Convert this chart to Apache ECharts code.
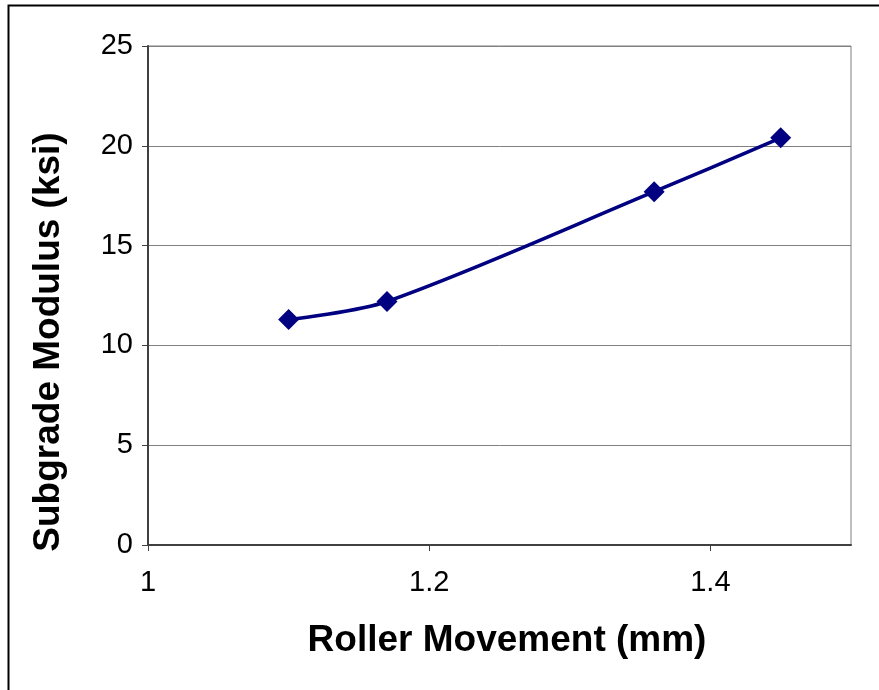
<!DOCTYPE html>
<html>
<head>
<meta charset="utf-8">
<script src="https://cdn.jsdelivr.net/npm/echarts@6/dist/echarts.min.js"></script>
<style>
  html, body { margin: 0; padding: 0; background: #ffffff; }
  #chart { width: 879px; height: 690px; }
</style>
</head>
<body>
<div id="chart"></div>
<script>
// Roller movement (mm) vs. subgrade modulus (ksi)
const rollerMovement = [1.10, 1.17, 1.36, 1.45];
const subgradeModulus = [11.3, 12.2, 17.7, 20.4];
const xTicks = [1, 1.2, 1.4];
const yTicks = [0, 5, 10, 15, 20, 25];

const points = rollerMovement.map((x, i) => [x, subgradeModulus[i]]);
const FONT = 'Liberation Sans, Arial, sans-serif';

const chart = echarts.init(document.getElementById('chart'), null, { renderer: 'canvas' });
chart.setOption({
  animation: false,
  backgroundColor: '#ffffff',
  grid: { left: 148, right: 28, top: 46, bottom: 145, show: true, borderColor: '#808080', borderWidth: 1 },
  xAxis: {
    type: 'value', min: 1, max: 1.5, interval: 0.2,
    axisLine: { show: true, onZero: false, lineStyle: { color: '#404040', width: 2 } },
    axisTick: { show: true, length: 6, inside: false, customValues: xTicks, lineStyle: { color: '#404040', width: 1 } },
    axisLabel: { customValues: xTicks, margin: 23, color: '#000', fontSize: 29, fontFamily: FONT,
      formatter: v => String(v) },
    splitLine: { show: false }
  },
  yAxis: {
    type: 'value', min: 0, max: 25, interval: 5,
    axisLine: { show: true, lineStyle: { color: '#404040', width: 2 } },
    axisTick: { show: true, length: 6, inside: false, lineStyle: { color: '#404040', width: 1 } },
    axisLabel: { margin: 15, color: '#000', fontSize: 29, fontFamily: FONT,
      customValues: yTicks },
    splitLine: { show: true, lineStyle: { color: '#808080', width: 1 } }
  },
  series: [{
    type: 'line',
    data: points,
    smooth: 0.3,
    symbol: 'diamond',
    symbolSize: 21,
    lineStyle: { color: '#000080', width: 3.5 },
    itemStyle: { color: '#000080' }
  }],
  graphic: [
    { type: 'rect', left: 6, top: 3, shape: { width: 900, height: 800 }, silent: true, z: -1,
      style: { fill: null, stroke: '#000', lineWidth: 2 } },
    { type: 'text', x: 507, y: 641, silent: true,
      style: { text: 'Roller Movement (mm)', font: 'bold 37px ' + FONT, fill: '#000',
        textAlign: 'center', textVerticalAlign: 'middle' } },
    { type: 'text', x: 49, y: 342, rotation: Math.PI / 2, silent: true,
      style: { text: 'Subgrade Modulus (ksi)', font: 'bold 37px ' + FONT, fill: '#000',
        textAlign: 'center', textVerticalAlign: 'middle' } }
  ]
});
</script>
</body>
</html>
